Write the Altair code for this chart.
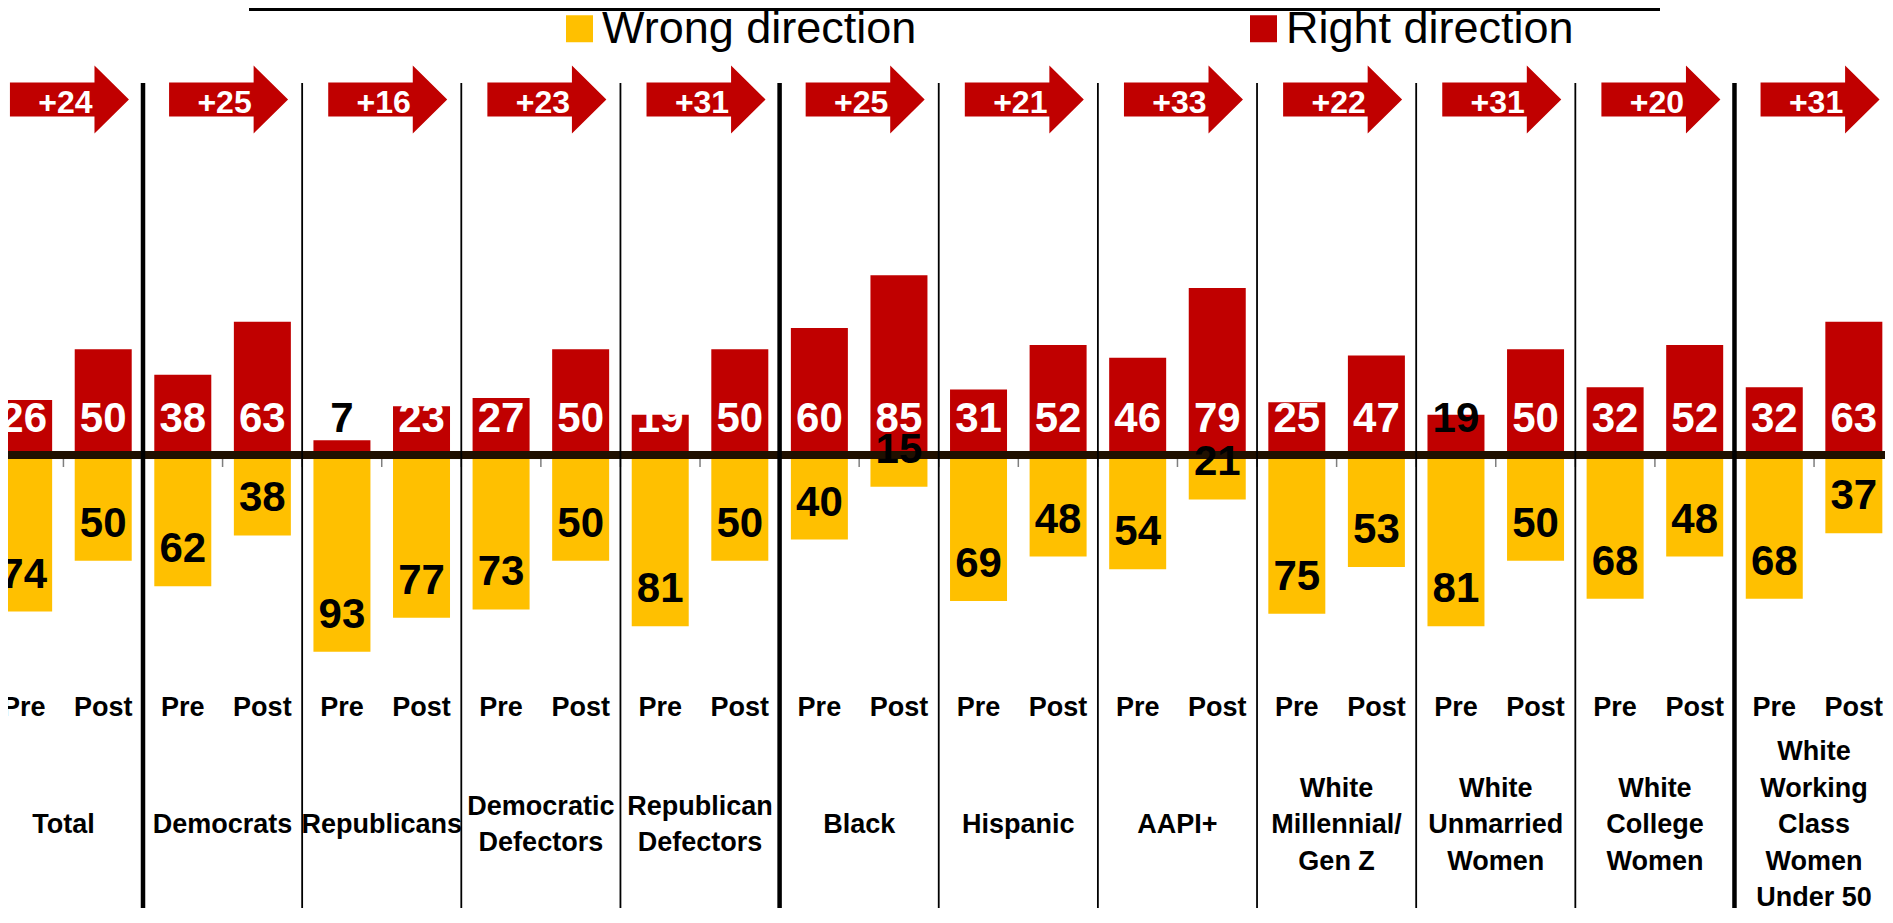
import altair as alt
import pandas as pd

# ---------------- data ----------------
groups = ["Total", "Democrats", "Republicans", "Democratic Defectors",
          "Republican Defectors", "Black", "Hispanic", "AAPI+",
          "White Millennial/ Gen Z", "White Unmarried Women",
          "White College Women", "White Working Class Women Under 50"]
group_label_lines = [["Total"], ["Democrats"], ["Republicans"],
                     ["Democratic", "Defectors"], ["Republican", "Defectors"],
                     ["Black"], ["Hispanic"], ["AAPI+"],
                     ["White", "Millennial/", "Gen Z"],
                     ["White", "Unmarried", "Women"],
                     ["White", "College", "Women"],
                     ["White", "Working", "Class", "Women", "Under 50"]]
phases = ["Pre", "Post"]
series_names = ["Wrong direction", "Right direction"]
right_pre = [26, 38, 7, 27, 19, 60, 31, 46, 25, 19, 32, 32]
right_post = [50, 63, 23, 50, 50, 85, 52, 79, 47, 50, 52, 63]
wrong_pre = [74, 62, 93, 73, 81, 40, 69, 54, 75, 81, 68, 68]
wrong_post = [50, 38, 77, 50, 50, 15, 48, 21, 53, 50, 48, 37]
shift_labels = ["+24", "+25", "+16", "+23", "+31", "+25", "+21", "+33",
                "+22", "+31", "+20", "+31"]

# ---------------- styling ----------------
RED = "#C00000"
YELLOW = "#FFC000"
AXIS = "#201000"
FONT = "Liberation Sans, Arial, Helvetica, sans-serif"
DARK_RIGHT_LABELS = {("Republicans", "Pre"), ("White Unmarried Women", "Pre")}
THICK_AFTER = {"Total", "Republican Defectors", "White College Women"}
W, H = 1877, 900
LINE_H = 36.5
LABEL_MID_BASELINE = 825  # baseline of the middle of a group label block (px)

# ---------------- tables built from the lists ----------------
bar_rows = []
for g, name in enumerate(groups):
    for p, phase in enumerate(phases):
        pos = 2 * g + p
        r = (right_pre, right_post)[p][g]
        w = (wrong_pre, wrong_post)[p][g]
        bar_rows.append({"group": name, "phase": phase, "pos": pos,
                         "series": "Right direction", "value": r, "signed": r,
                         "zero": 0,
                         "label_color": "black" if (name, phase) in DARK_RIGHT_LABELS else "white"})
        bar_rows.append({"group": name, "phase": phase, "pos": pos,
                         "series": "Wrong direction", "value": w, "signed": -w,
                         "zero": 0, "label_color": "black"})
bars_df = pd.DataFrame(bar_rows)

group_df = pd.DataFrame({
    "group": groups,
    "center": [2 * g + 0.5 for g in range(len(groups))],
    "label": ["\n".join(l) for l in group_label_lines],
    "nlines": [len(l) for l in group_label_lines],
    "shift": shift_labels,
})
sep_df = pd.DataFrame({
    "x": [2 * g + 1.5 for g in range(len(groups) - 1)],
    "width": [4.5 if groups[g] in THICK_AFTER else 1.8 for g in range(len(groups) - 1)],
})
tick_df = pd.DataFrame({"x": [i - 0.5 for i in range(2 * len(groups) + 1)]})
zero_df = pd.DataFrame({"zero": [0]})

xs = alt.Scale(domain=[-0.13375, 23.32875], nice=False, zero=False)
ys = alt.Scale(domain=[-214.18, 211.35], nice=False, zero=False)

legend = alt.Legend(title=None, orient="none", legendX=549, legendY=-2,
                    direction="horizontal", symbolType="square", symbolSize=729,
                    symbolStrokeWidth=0, symbolOpacity=1, labelFont=FONT,
                    labelFontSize=45, labelColor="black", labelOffset=0,
                    labelLimit=1000, columnPadding=324, padding=0)

bars = alt.Chart(bars_df).mark_bar(size=57, clip=True).encode(
    x=alt.X("pos:Q", scale=xs, axis=None),
    y=alt.Y("signed:Q", scale=ys, axis=None),
    y2="zero:Q",
    color=alt.Color("series:N", scale=alt.Scale(domain=series_names, range=[YELLOW, RED]),
                    legend=legend),
)

axis_line = alt.Chart(zero_df).mark_rule(color=AXIS, strokeWidth=8).encode(
    x=alt.value(0), x2=alt.value(W), y=alt.Y("zero:Q", scale=ys, axis=None))

ticks = alt.Chart(tick_df).mark_rule(color="#7f7f7f", strokeWidth=1.5).encode(
    x=alt.X("x:Q", scale=xs, axis=None), y=alt.value(451), y2=alt.value(459))

seps = alt.Chart(sep_df).mark_rule(color="black").encode(
    x=alt.X("x:Q", scale=xs, axis=None), y=alt.value(75), y2=alt.value(H),
    strokeWidth=alt.StrokeWidth("width:Q", scale=None))

right_labels = alt.Chart(bars_df).transform_filter(
    alt.datum.series == "Right direction").mark_text(
    font=FONT, fontWeight="bold", fontSize=42, baseline="alphabetic", dy=-23).encode(
    x=alt.X("pos:Q", scale=xs, axis=None),
    y=alt.Y("zero:Q", scale=ys, axis=None),
    text="value:Q",
    color=alt.Color("label_color:N", scale=None))

wrong_labels = alt.Chart(bars_df).transform_filter(
    alt.datum.series == "Wrong direction").mark_text(
    font=FONT, fontWeight="bold", fontSize=42, baseline="alphabetic", dy=-24,
    color="black").encode(
    x=alt.X("pos:Q", scale=xs, axis=None),
    y=alt.Y("signed:Q", scale=ys, axis=None),
    text="value:Q")

phase_labels = alt.Chart(bars_df).transform_filter(
    alt.datum.series == "Right direction").mark_text(
    font=FONT, fontWeight="bold", fontSize=27, baseline="alphabetic",
    color="black").encode(
    x=alt.X("pos:Q", scale=xs, axis=None), y=alt.value(708), text="phase:N")

# group labels: one layer per line count so each block is vertically centred
group_label_layers = []
for n in sorted(set(group_df["nlines"])):
    first_baseline = LABEL_MID_BASELINE - (n - 1) / 2 * LINE_H
    group_label_layers.append(
        alt.Chart(group_df).transform_filter(alt.datum.nlines == n).mark_text(
            font=FONT, fontWeight="bold", fontSize=27, baseline="alphabetic",
            lineBreak="\n", lineHeight=LINE_H, color="black").encode(
            x=alt.X("center:Q", scale=xs, axis=None),
            y=alt.value(first_baseline), text="label:N"))

ARROW = "M -1 -0.284 L 0.421 -0.284 L 0.421 -0.570 L 1 0 L 0.421 0.570 L 0.421 0.284 L -1 0.284 Z"
arrows = alt.Chart(group_df).mark_point(
    shape=ARROW, size=14161, filled=True, color=RED, opacity=1, strokeWidth=0,
    xOffset=6).encode(
    x=alt.X("center:Q", scale=xs, axis=None), y=alt.value(91.5))

arrow_labels = alt.Chart(group_df).mark_text(
    font=FONT, fontWeight="bold", fontSize=32, baseline="alphabetic", dx=2,
    color="white").encode(
    x=alt.X("center:Q", scale=xs, axis=None), y=alt.value(104.5), text="shift:N")

top_box = alt.Chart(zero_df).mark_rule(color="black", strokeWidth=3).encode(
    x=alt.value(241), x2=alt.value(1652), y=alt.value(1.5))

chart = alt.layer(
    bars, axis_line, ticks, seps, right_labels, wrong_labels, phase_labels,
    *group_label_layers, arrows, arrow_labels, top_box
).properties(
    width=W, height=H, padding=0, autosize=alt.AutoSizeParams(type="none"),
    background="white"
).configure_view(stroke=None)

chart.save("out.html", embed_options={"renderer": "svg", "actions": False})
